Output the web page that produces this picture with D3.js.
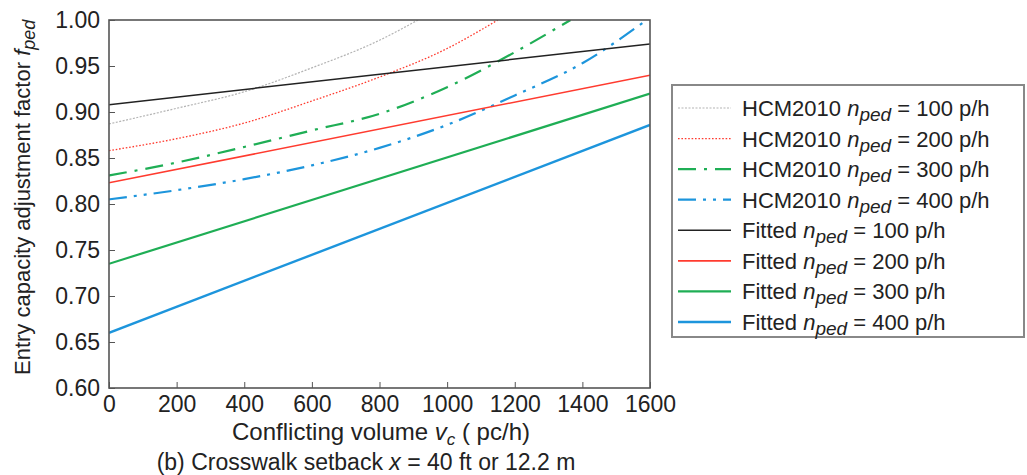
<!DOCTYPE html>
<html>
<head>
<meta charset="utf-8">
<script src="https://cdn.jsdelivr.net/npm/d3@7"></script>
<style>
  html, body { margin: 0; padding: 0; background: #fff; }
  svg { display: block; font-family: "Liberation Sans", Arial, sans-serif; }
</style>
</head>
<body>
<svg id="chart" width="1027" height="475"></svg>
<script>
// Conflicting volume (pc/h) ticks and adjustment-factor ticks
const xTicks = [0, 200, 400, 600, 800, 1000, 1200, 1400, 1600];
const yTicks = [0.60, 0.65, 0.70, 0.75, 0.80, 0.85, 0.90, 0.95, 1.00];

// HCM2010 curves (each ends where the factor reaches 1.0)
const hcm100Vc = [0, 200, 400, 600, 800, 914];
const hcm100 = [0.887, 0.904, 0.922, 0.948, 0.978, 1.0];
const hcm200Vc = [0, 200, 400, 600, 800, 1000, 1150];
const hcm200 = [0.858, 0.871, 0.888, 0.912, 0.938, 0.969, 1.0];
const hcm300Vc = [0, 200, 400, 600, 800, 1000, 1200, 1365];
const hcm300 = [0.831, 0.845, 0.862, 0.880, 0.898, 0.927, 0.965, 1.0];
const hcm400Vc = [0, 200, 400, 600, 800, 1000, 1200, 1400, 1590];
const hcm400 = [0.805, 0.815, 0.827, 0.842, 0.861, 0.886, 0.918, 0.953, 1.0];

// Fitted straight lines
const fitVc = [0, 1600];
const fit100 = [0.908, 0.974];
const fit200 = [0.823, 0.940];
const fit300 = [0.735, 0.920];
const fit400 = [0.660, 0.886];

const series = [
  { kind: "HCM2010", rate: 100, vc: hcm100Vc, f: hcm100, color: "#b4b4b4", width: 1.2, dash: "2,1.5" },
  { kind: "HCM2010", rate: 200, vc: hcm200Vc, f: hcm200, color: "#ff3b2f", width: 1.3, dash: "1.6,1.8" },
  { kind: "HCM2010", rate: 300, vc: hcm300Vc, f: hcm300, color: "#1fae55", width: 2.2, dash: "18,8,3,8" },
  { kind: "HCM2010", rate: 400, vc: hcm400Vc, f: hcm400, color: "#1d95dc", width: 2.2, dash: "18,7,3,7,3,7" },
  { kind: "Fitted", rate: 100, vc: fitVc, f: fit100, color: "#222222", width: 1.5, dash: null },
  { kind: "Fitted", rate: 200, vc: fitVc, f: fit200, color: "#ff3b2f", width: 1.6, dash: null },
  { kind: "Fitted", rate: 300, vc: fitVc, f: fit300, color: "#1fae55", width: 2.2, dash: null },
  { kind: "Fitted", rate: 400, vc: fitVc, f: fit400, color: "#1d95dc", width: 2.4, dash: null }
];

const svg = d3.select("#chart");
const plot = { left: 109, right: 650, top: 20, bottom: 388 };

const x = d3.scaleLinear().domain([0, 1600]).range([plot.left, plot.right]);
const y = d3.scaleLinear().domain([0.60, 1.00]).range([plot.bottom, plot.top]);

svg.append("defs").append("clipPath").attr("id", "plotClip")
  .append("rect")
  .attr("x", plot.left).attr("y", plot.top)
  .attr("width", plot.right - plot.left).attr("height", plot.bottom - plot.top);

// Curves
const line = d3.line().x(d => x(d[0])).y(d => y(d[1])).curve(d3.curveMonotoneX);
const lines = svg.append("g").attr("clip-path", "url(#plotClip)");
series.forEach(s => {
  lines.append("path")
    .datum(s.vc.map((v, i) => [v, s.f[i]]))
    .attr("d", line)
    .attr("fill", "none")
    .attr("stroke", s.color)
    .attr("stroke-width", s.width)
    .attr("stroke-dasharray", s.dash);
});

// Axes with inward ticks
const xAxis = svg.append("g")
  .attr("transform", `translate(0,${plot.bottom})`)
  .call(d3.axisBottom(x).tickValues(xTicks).tickSize(-6).tickPadding(8).tickFormat(d3.format("d")));
const yAxis = svg.append("g")
  .attr("transform", `translate(${plot.left},0)`)
  .call(d3.axisLeft(y).tickValues(yTicks).tickSize(-6).tickPadding(9).tickFormat(d3.format(".2f")));
[xAxis, yAxis].forEach(a => {
  a.select(".domain").remove();
  a.selectAll(".tick line").attr("stroke", "#555").attr("stroke-width", 1);
  a.selectAll(".tick text").attr("fill", "#222").style("font-size", "23px")
    .style("font-family", "'Liberation Sans', Arial, sans-serif");
});

// Plot frame
svg.append("rect")
  .attr("x", plot.left).attr("y", plot.top)
  .attr("width", plot.right - plot.left).attr("height", plot.bottom - plot.top)
  .attr("fill", "none").attr("stroke", "#555").attr("stroke-width", 1.6);

// Axis titles
const yTitle = svg.append("text")
  .attr("transform", `translate(30,375) rotate(-90)`)
  .attr("text-anchor", "start")
  .attr("fill", "#222").style("font-size", "22px");
yTitle.append("tspan").text("Entry capacity adjustment factor ");
yTitle.append("tspan").attr("font-style", "italic").text("f");
yTitle.append("tspan").attr("font-style", "italic").style("font-size", "18px").attr("dy", 5).text("ped");

const xTitle = svg.append("text")
  .attr("x", 381).attr("y", 440)
  .attr("text-anchor", "middle")
  .attr("fill", "#222").style("font-size", "24px");
xTitle.append("tspan").text("Conflicting volume ");
xTitle.append("tspan").attr("font-style", "italic").text("v");
xTitle.append("tspan").attr("font-style", "italic").style("font-size", "17px").attr("dy", 5).text("c");
xTitle.append("tspan").attr("dy", -5).text(" ( pc/h)");

const caption = svg.append("text")
  .attr("x", 366).attr("y", 470)
  .attr("text-anchor", "middle")
  .attr("fill", "#222").style("font-size", "23px");
caption.append("tspan").text("(b) Crosswalk setback ");
caption.append("tspan").attr("font-style", "italic").text("x");
caption.append("tspan").text(" = 40 ft or 12.2 m");

// Legend
const legend = svg.append("g");
legend.append("rect")
  .attr("x", 672).attr("y", 85).attr("width", 352).attr("height", 252)
  .attr("fill", "#fff").attr("stroke", "#888").attr("stroke-width", 2);

const rowY = d3.scalePoint().domain(d3.range(series.length)).range([108, 322]);
series.forEach((s, i) => {
  const ry = rowY(i);
  legend.append("line")
    .attr("x1", 678).attr("x2", 731).attr("y1", ry).attr("y2", ry)
    .attr("stroke", s.color).attr("stroke-width", s.width)
    .attr("stroke-dasharray", s.dash);
  const t = legend.append("text")
    .attr("x", 742).attr("y", ry + 8)
    .attr("fill", "#222").style("font-size", "22px");
  t.append("tspan").text(s.kind + " ");
  t.append("tspan").attr("font-style", "italic").text("n");
  t.append("tspan").attr("font-style", "italic").style("font-size", "19px").attr("dy", 5).text("ped");
  t.append("tspan").attr("dy", -5).text(" = " + s.rate + " p/h");
});
</script>
</body>
</html>
